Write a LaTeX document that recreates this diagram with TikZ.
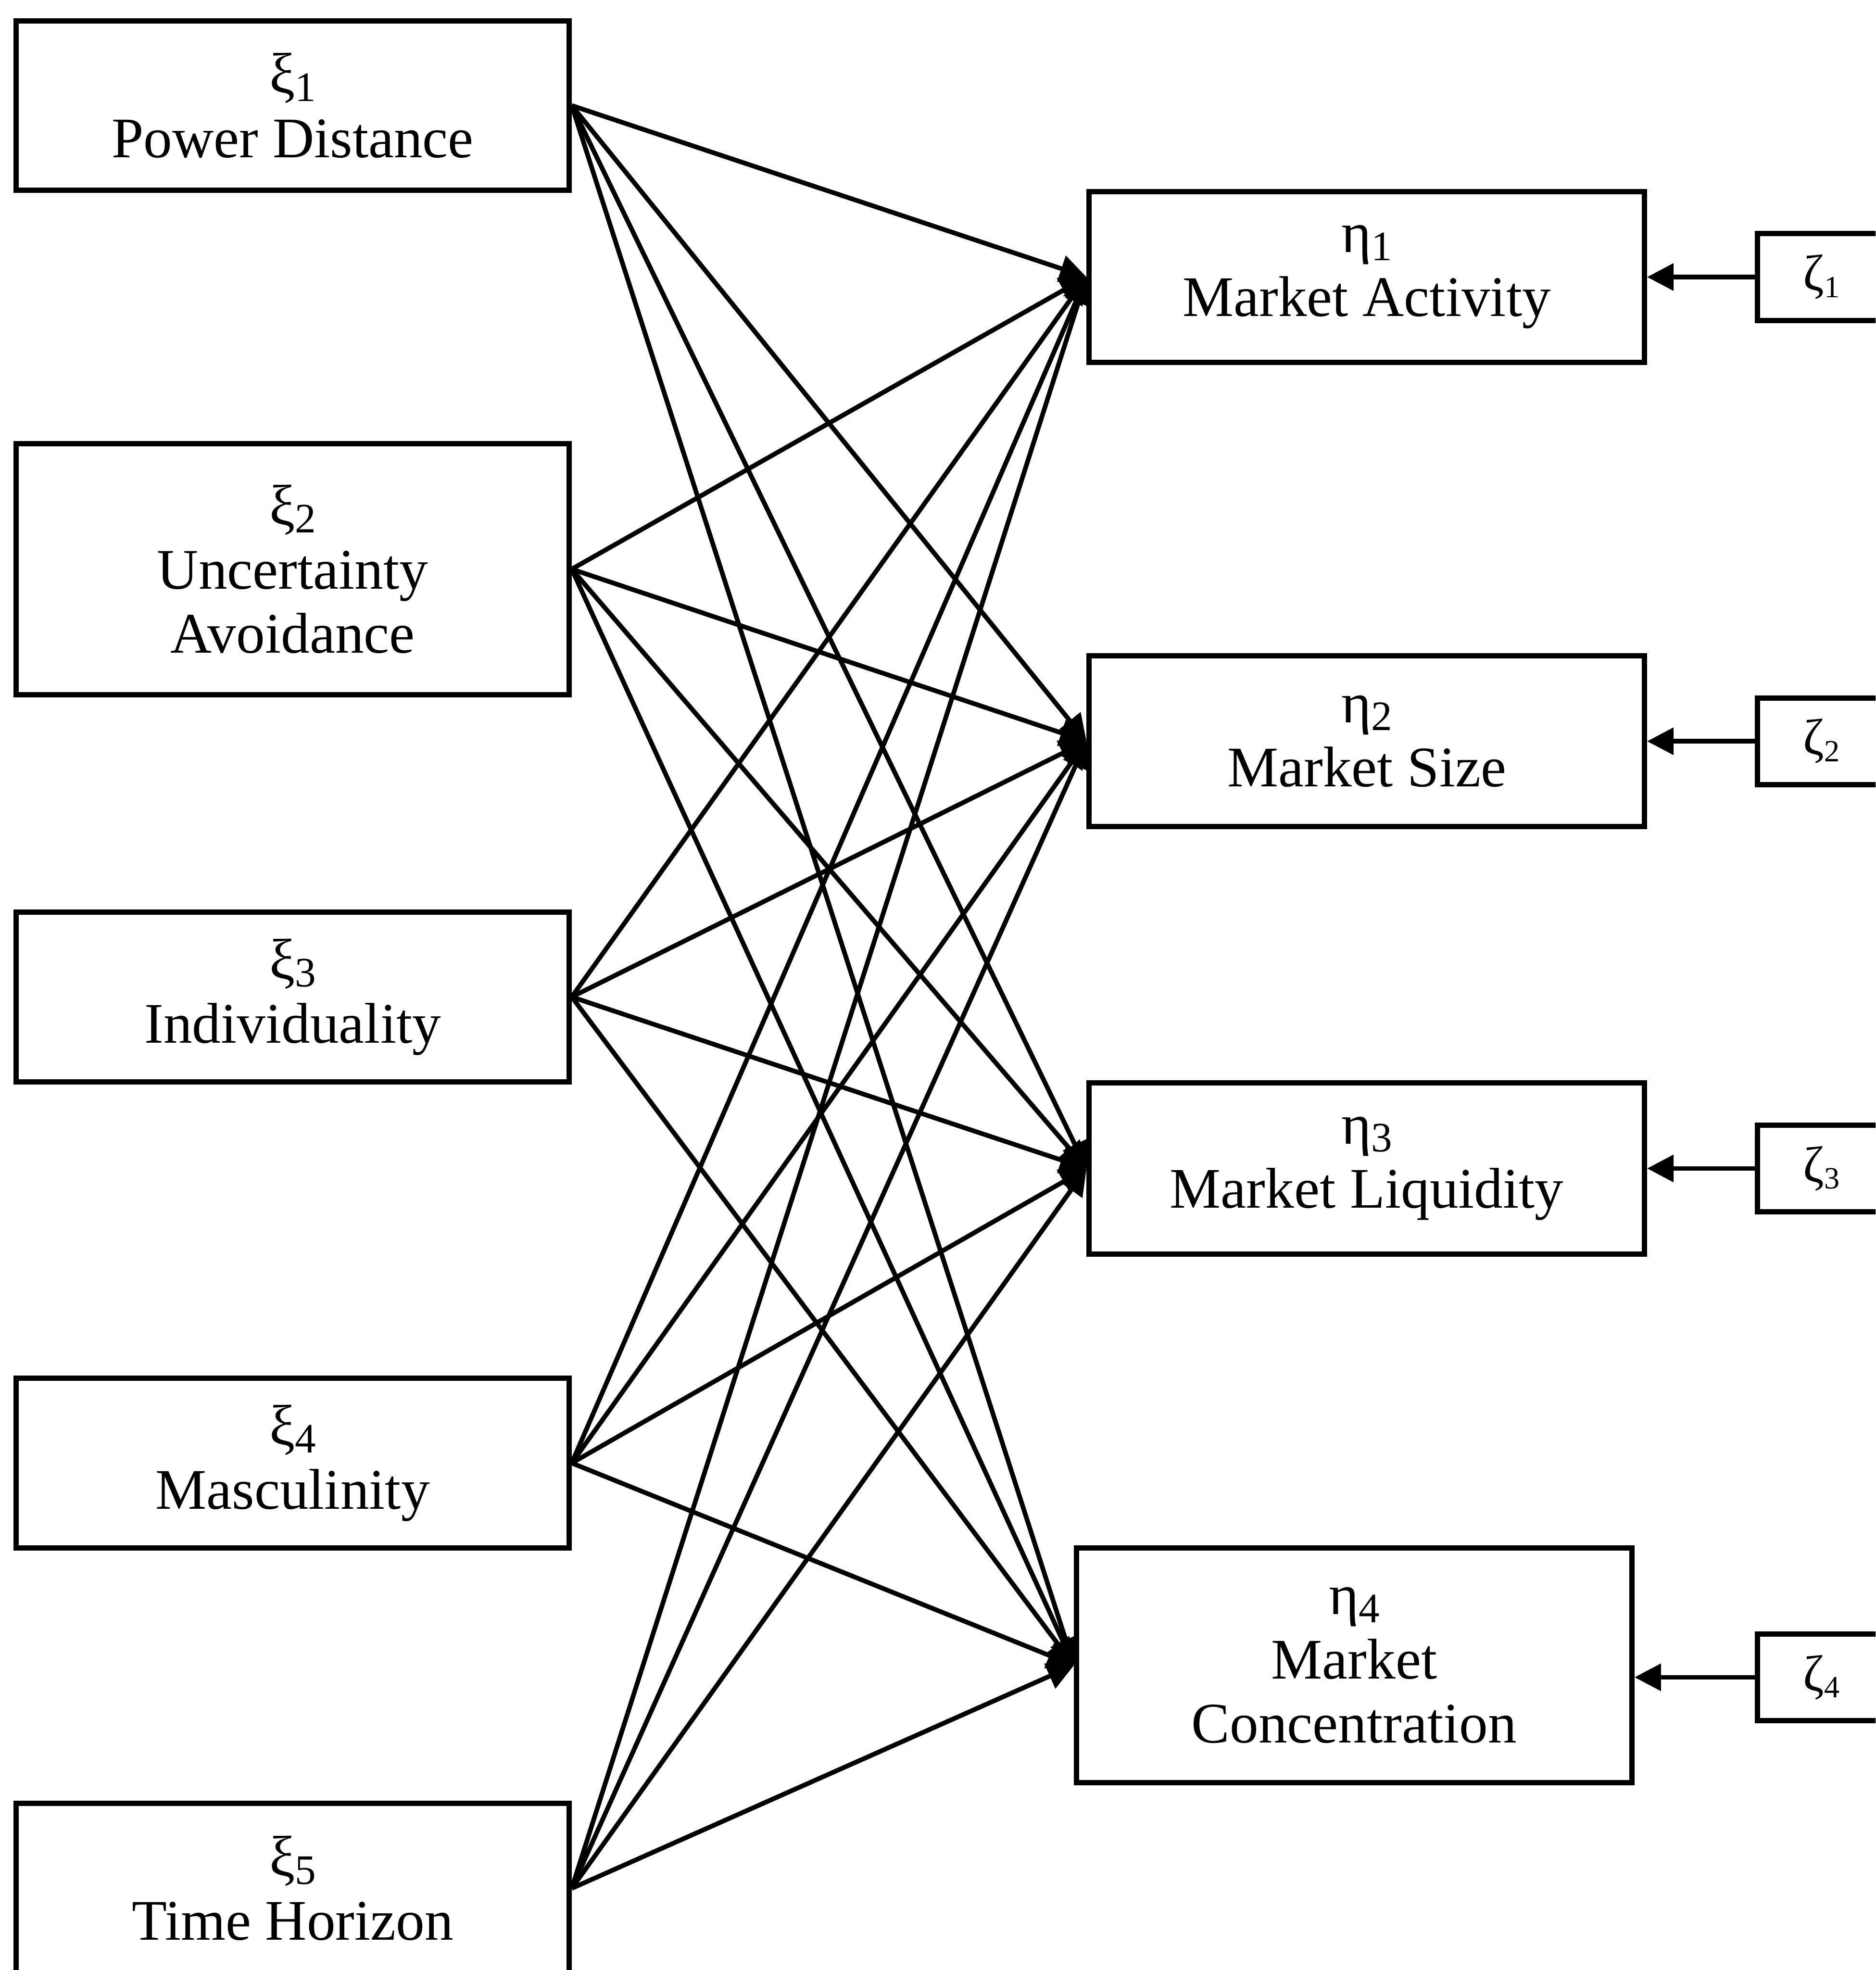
\documentclass[tikz,border=0pt]{standalone}
\usepackage{fontspec}
\setmainfont{Liberation Serif}
\usepackage{tikz}
\usetikzlibrary{arrows.meta}
\newcommand{\subidx}[1]{\raisebox{-0.3ex}{\fontsize{9.5}{10}\selectfont #1}}
\newcommand{\zetaidx}[1]{\raisebox{-0.3ex}{\fontsize{7}{8}\selectfont #1}}
\tikzstyle{latent} = [rectangle, minimum width=4.4cm, minimum height=1.35cm, align=center, draw=black, line width=1.2pt, font=\fontsize{13}{14.5}\selectfont]
\tikzstyle{outcome} = [rectangle, minimum width=4.42cm, minimum height=1.36cm, align=center, draw=black, line width=1.2pt, font=\fontsize{13}{14.5}\selectfont]
\tikzstyle{disturb} = [rectangle, minimum width=1.02cm, minimum height=0.69cm, align=center, draw=black, line width=1.2pt, font=\fontsize{11.5}{12}\selectfont]
\tikzstyle{arrow} = [line width=1.05pt,-{Triangle[length=6pt,width=6pt]}]

\begin{document}
\begin{tikzpicture}[node distance=1cm]
\path[use as bounding box, clip] (0,0) rectangle (14.93,-15.68);

\node (pd) [latent] at (2.33,-0.84) {ξ\subidx{1}\\Power Distance};
\node (ua) [latent, below of=pd, yshift=-2.69cm, minimum height=2cm] {ξ\subidx{2}\\Uncertainty\\Avoidance};
\node (ind) [latent, below of=ua, yshift=-2.405cm] {ξ\subidx{3}\\Individuality};
\node (mas) [latent, below of=ind, yshift=-2.71cm] {ξ\subidx{4}\\Masculinity};
\node (th) [latent, below of=mas, yshift=-2.385cm] {ξ\subidx{5}\\Time Horizon};

\node (ma) [outcome, right of=pd, xshift=7.55cm, yshift=-1.365cm] {η\subidx{1}\\Market Activity};
\node (ms) [outcome, below of=ma, yshift=-2.695cm] {η\subidx{2}\\Market Size};
\node (ml) [outcome, below of=ms, yshift=-2.40cm] {η\subidx{3}\\Market Liquidity};
\node (mc) [outcome, below of=ml, xshift=-0.1cm, yshift=-2.955cm, minimum height=1.87cm] {η\subidx{4}\\Market\\Concentration};

\node (z1) [disturb, right of=ma, xshift=2.62cm] {ζ\zetaidx{1}};
\node (z2) [disturb, right of=ms, xshift=2.62cm] {ζ\zetaidx{2}};
\node (z3) [disturb, right of=ml, xshift=2.62cm] {ζ\zetaidx{3}};
\node (z4) [disturb, right of=mc, xshift=2.72cm, yshift=-0.095cm] {ζ\zetaidx{4}};

\draw [arrow] (pd.east) -- (ma.west);
\draw [arrow] (pd.east) -- (ms.west);
\draw [arrow] (pd.east) -- (ml.west);
\draw [arrow] (pd.east) -- (mc.west);
\draw [arrow] (ua.east) -- (ma.west);
\draw [arrow] (ua.east) -- (ms.west);
\draw [arrow] (ua.east) -- (ml.west);
\draw [arrow] (ua.east) -- (mc.west);
\draw [arrow] (ind.east) -- (ma.west);
\draw [arrow] (ind.east) -- (ms.west);
\draw [arrow] (ind.east) -- (ml.west);
\draw [arrow] (ind.east) -- (mc.west);
\draw [arrow] (mas.east) -- (ma.west);
\draw [arrow] (mas.east) -- (ms.west);
\draw [arrow] (mas.east) -- (ml.west);
\draw [arrow] (mas.east) -- (mc.west);
\draw [arrow] (th.east) -- (ma.west);
\draw [arrow] (th.east) -- (ms.west);
\draw [arrow] (th.east) -- (ml.west);
\draw [arrow] (th.east) -- (mc.west);

\draw [arrow] (z1) -- (ma);
\draw [arrow] (z2) -- (ms);
\draw [arrow] (z3) -- (ml);
\draw [arrow] (z4.west) -- (z4.west -| mc.east);
\end{tikzpicture}
\end{document}
